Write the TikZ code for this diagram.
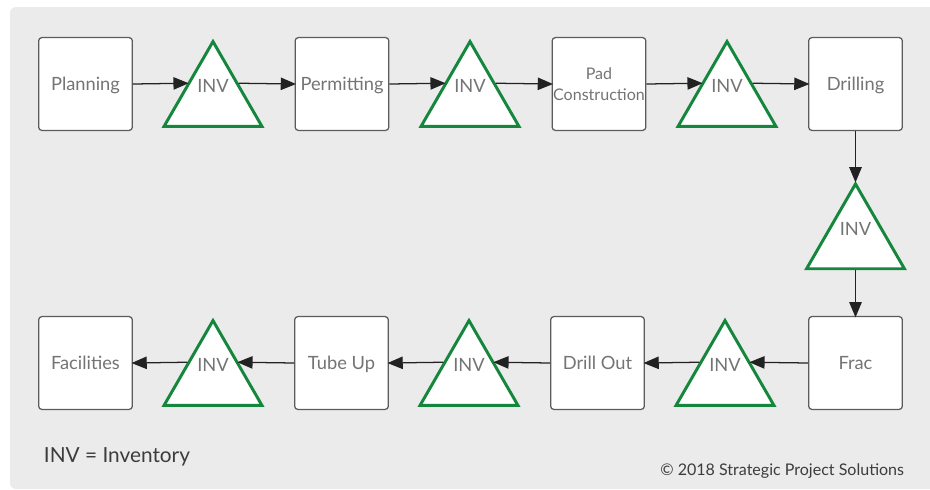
\documentclass[tikz,border=0pt]{standalone}
\usepackage{fontspec}
\setmainfont{Lato}
\usepackage{xcolor}
\usepackage{tikz}
\usetikzlibrary{shapes.geometric, arrows.meta}

\definecolor{invgreen}{HTML}{15873D}
\definecolor{panelgray}{HTML}{EBEBEB}
\definecolor{boxline}{HTML}{5C5C5C}
\definecolor{boxtext}{HTML}{747474}
\definecolor{legendtext}{HTML}{3C3C3C}
\definecolor{flowdark}{HTML}{222222}

\begin{document}
\begin{tikzpicture}[x=0.025cm, y=-0.025cm,
    stage/.style={draw=boxline, line width=0.9pt, fill=white, rounded corners=0.08cm,
      minimum width=2.34cm, minimum height=2.32cm, inner sep=0pt,
      text height=9.3pt, text depth=0pt,
      text=boxtext, font=\fontsize{13}{15.5}\selectfont},
    inv/.style={regular polygon, regular polygon sides=3, draw=invgreen, line width=2.1pt,
      fill=white, minimum size=2.825cm, inner sep=0pt,
      label={[text=boxtext, font=\fontsize{13}{15.5}\selectfont, yshift=0.3cm]center:INV}},
    flow/.style={draw=flowdark, line width=0.9pt, shorten >=-1pt,
      -{Triangle[length=0.38cm, width=0.31cm]}}]
            \useasboundingbox (0,0) rectangle (930,489);
            \fill[panelgray, rounded corners=0.15cm] (10,7) rectangle (950,489);

            % top row
            \node[stage] (plan) at (85.5,84) {Planning};
            \node[inv] (inv1) at (213,98.1) {};
            \node[stage] (permit) at (342,84) {Permitting};
            \node[inv] (inv2) at (470,98.1) {};
            \node[stage, align=center, text height=, text depth=, font=\fontsize{11.4}{15}\selectfont] (pad) at (599,84) {Pad\\Construction};
            \node[inv] (inv3) at (727,98.1) {};
            \node[stage] (drill) at (855.5,84) {Drilling};

            % right side
            \node[inv] (inv4) at (855.5,240.5) {};

            % bottom row
            \node[stage] (frac) at (855.5,363) {Frac};
            \node[inv] (inv5) at (725,377.1) {};
            \node[stage] (drillout) at (597.5,363) {Drill Out};
            \node[inv] (inv6) at (469,377.1) {};
            \node[stage] (tube) at (341.5,363) {Tube Up};
            \node[inv] (inv7) at (213,377.1) {};
            \node[stage] (facil) at (85.5,363) {Facilities};

            \draw[flow] (plan.east) -- (inv1.side 1); % plan-inv
            \draw[flow] (inv1.side 3) -- (permit.west); % inv-permit
            \draw[flow] (permit.east) -- (inv2.side 1); % permit-inv
            \draw[flow] (inv2.side 3) -- (pad.west); % inv-pad
            \draw[flow] (pad.east) -- (inv3.side 1); % pad-inv
            \draw[flow] (inv3.side 3) -- (drill.west); % inv-drill
            \draw[flow] (drill.south) -- (inv4.corner 1); % drill-inv
            \draw[flow] (inv4.side 2) -- (frac.north); % inv-frac
            \draw[flow] (frac.west) -- (inv5.side 3); % frac-inv
            \draw[flow] (inv5.side 1) -- (drillout.east); % inv-drillout
            \draw[flow] (drillout.west) -- (inv6.side 3); % drillout-inv
            \draw[flow] (inv6.side 1) -- (tube.east); % inv-tube
            \draw[flow] (tube.west) -- (inv7.side 3); % tube-inv
            \draw[flow] (inv7.side 1) -- (facil.east); % inv-facil

            \node[anchor=west, text=legendtext, font=\fontsize{14.8}{18}\selectfont] (legend) at (39,457) {INV = Inventory};
            \node[anchor=east, text=legendtext, font=\fontsize{11.4}{13}\selectfont] (credit) at (909,471) {© 2018 Strategic Project Solutions};
        \end{tikzpicture}
\end{document}
